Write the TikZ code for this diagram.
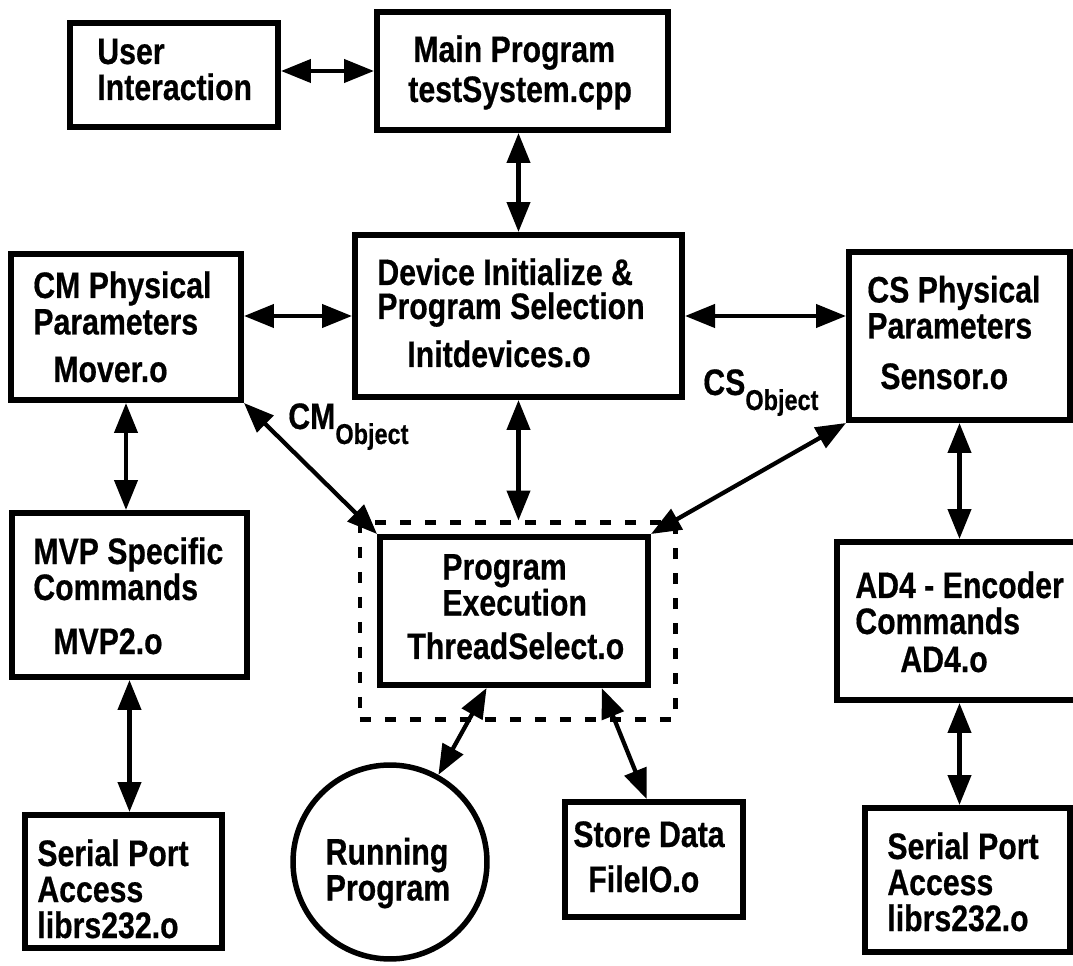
\documentclass[tikz,border=0pt]{standalone}
\usepackage{fontspec}
\setmainfont{Liberation Sans}[FakeStretch=0.82,FakeBold=0.5]
\usetikzlibrary{arrows.meta,calc}
\tikzset{
  box/.style={draw, line width=0.12cm, rectangle, inner sep=0pt},
  dashbox/.style={draw, line width=0.1cm, dash pattern=on 0.22cm off 0.28cm, rectangle, inner sep=0pt},
  dbl/.style={line width=0.085cm, {Triangle[length=0.6cm,width=0.46cm]}-{Triangle[length=0.6cm,width=0.46cm]}},
  txt/.style={font=\bfseries\fontsize{21}{22}\selectfont, inner sep=0pt, anchor=base west, text height=0.52cm, text depth=0.1cm},
  ctxt/.style={txt, anchor=base},
}
\newcommand\drawbox[6]{%
  \pgfmathsetmacro\bw{(#5-#3)*0.02}%
  \pgfmathsetmacro\bh{(#6-#4)*0.02}%
  \node[#2, minimum width=\bw cm, minimum height=\bh cm] (#1) at ({(#3+#5)/2},{(#4+#6)/2}) {};%
}
\newcommand\subobj{\raisebox{-0.3cm}{\fontsize{16.3}{17}\selectfont Object}}
\begin{document}
\begin{tikzpicture}[x=0.02cm,y=-0.02cm]
\path[fill=white, use as bounding box] (0,0) rectangle (1073,966);

% boxes
\drawbox{user}{box}{70}{23}{278}{127}
\drawbox{main}{box}{377}{12}{668}{130}
\drawbox{dev}{box}{355}{235}{682}{397}
\drawbox{cm}{box}{11}{254}{241}{400}
\drawbox{cs}{box}{849}{252}{1070}{420}
\drawbox{mvp}{box}{12}{513}{247}{677}
\drawbox{dashed}{dashbox}{360}{523}{675}{719}
\drawbox{pe}{box}{380}{537}{648}{685}
\drawbox{ad4}{box}{837}{542}{1082}{700}
\drawbox{serL}{box}{25}{815}{222}{948}
\drawbox{serR}{box}{865}{808}{1070}{952}
\drawbox{store}{box}{565}{802}{743}{917}
\node[circle, draw, line width=0.11cm, inner sep=0pt, minimum size=3.88cm] (run) at (390,862) {};

% texts
\node[txt] (t1) at (97,64) {User};
\node[txt] (t2) at (97,100) {Interaction};
\node[txt] (t3) at (413,62) {Main Program};
\node[txt] (t4) at (408,102) {testSystem.cpp};
\node[txt] (t5) at (377,285) {Device Initialize \&};
\node[txt] (t6) at (377,319) {Program Selection};
\node[txt] (t7) at (407,367) {Initdevices.o};
\node[txt] (t8) at (33,298) {CM Physical};
\node[txt] (t9) at (33,334.5) {Parameters};
\node[txt] (t10) at (53,382) {Mover.o};
\node[txt] (t11) at (867,302.5) {CS Physical};
\node[txt] (t12) at (867,338.5) {Parameters};
\node[txt] (t13) at (880,389) {Sensor.o};
\node[txt] (t14) at (33,564) {MVP Specific};
\node[txt] (t15) at (33,600) {Commands};
\node[txt] (t16) at (53,654) {MVP2.o};
\node[txt] (t17) at (442,579.5) {Program};
\node[txt] (t18) at (442,615.5) {Execution};
\node[txt] (t19) at (407,659) {ThreadSelect.o};
\node[txt] (t20) at (855,598) {AD4 - Encoder};
\node[txt] (t21) at (855,634) {Commands};
\node[txt] (t22) at (900,672) {AD4.o};
\node[txt] (t23) at (37,866) {Serial Port};
\node[txt] (t24) at (37,902) {Access};
\node[txt] (t25) at (37,938) {librs232.o};
\node[txt] (t26) at (887,859) {Serial Port};
\node[txt] (t27) at (887,895) {Access};
\node[txt] (t28) at (887,931) {librs232.o};
\node[ctxt] (t29) at (387,864.5) {Running};
\node[ctxt] (t30) at (388,900.5) {Program};
\node[txt] (t31) at (573,847) {Store Data};
\node[txt] (t32) at (588,892) {FileIO.o};
\node[txt] (cmobj) at (288,429) {CM\subobj};
\node[txt] (csobj) at (703,395) {CS\subobj};

% connectors
\draw[dbl] (user.east |- main.west) -- (main.west);
\draw[dbl] (main.south -| dev.north) -- (dev.north);
\draw[dbl] (cm.east |- dev.west) -- (dev.west);
\draw[dbl] (dev.east) -- (dev.east -| cs.west);
\draw[dbl] (cm.south) -- (cm.south |- mvp.north);
\draw[dbl] (cm.south east) -- (pe.north west);
\draw[dbl] (dev.south) -- (dev.south |- dashed.north);
\draw[dbl] (cs.south west) -- (pe.north east);
\draw[dbl] (cs.south) -- (cs.south |- ad4.north);
\draw[dbl] (ad4.south) -- (ad4.south |- serR.north);
\draw[dbl] (mvp.south) -- (mvp.south |- serL.north);
\draw[dbl] ($(pe.south west)!0.4!(pe.south east)$) -- (run);
\draw[dbl] ($(pe.south west)!0.82!(pe.south east)$) -- ($(store.north west)!0.46!(store.north east)$);
\end{tikzpicture}
\end{document}
